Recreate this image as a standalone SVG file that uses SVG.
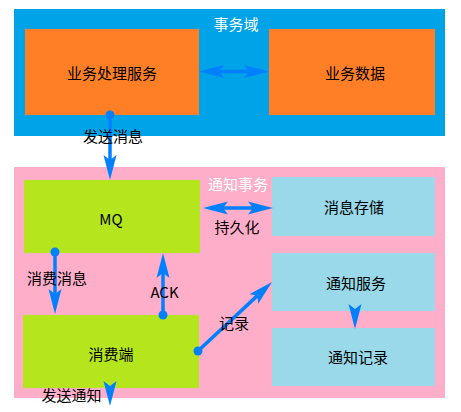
<svg xmlns="http://www.w3.org/2000/svg" width="461" height="412" viewBox="0 0 461 412">
<style>
text{font-family:"Noto Sans CJK SC","Noto Sans",sans-serif;font-size:15px;text-anchor:middle;fill:#000}
.w{fill:#fff}
.c{stroke:#0080ff;stroke-width:3.5;fill:none}
.d{fill:#0080ff}
.blue{fill:#00a2e8}.pink{fill:#ffaec9}.org{fill:#ff7f27}.lime{fill:#b5e61d}.lb{fill:#99d9ea}
</style>
<defs>
<marker id="ah" markerUnits="userSpaceOnUse" viewBox="-6 -8 30 16" markerWidth="30" markerHeight="16" refX="0" refY="0" orient="auto-start-reverse">
<path d="M20,0 L-5,-6.5 L0,0 L-5,6.5 Z" fill="#0080ff"/>
</marker>
</defs>
<g id="domain-tx">
<rect class="blue" x="14" y="9" width="431" height="127"/>
<text class="w" x="236" y="29.5">事务域</text>
</g>
<g id="domain-notify">
<rect class="pink" x="14" y="167" width="431" height="231"/>
<text class="w" x="238" y="189.5">通知事务</text>
</g>
<g id="biz-service">
<rect class="org" x="25" y="29" width="174" height="86"/>
<text x="112" y="78.5">业务处理服务</text>
</g>
<g id="biz-data">
<rect class="org" x="269" y="29" width="166" height="86"/>
<text x="355" y="78.5">业务数据</text>
</g>
<g id="mq">
<rect class="lime" x="24" y="180" width="176" height="73"/>
<text x="111" y="224.5">MQ</text>
</g>
<g id="msg-store">
<rect class="lb" x="272" y="177" width="163" height="59"/>
<text x="354" y="212.5">消息存储</text>
</g>
<g id="consumer">
<rect class="lime" x="23" y="315" width="176" height="73"/>
<text x="111" y="359.5">消费端</text>
</g>
<g id="notify-service">
<rect class="lb" x="272" y="253" width="163" height="58"/>
<text x="356" y="288.5">通知服务</text>
</g>
<g id="notify-record">
<rect class="lb" x="272" y="328" width="163" height="58"/>
<text x="358" y="362.5">通知记录</text>
</g>
<g id="connectors">
<path class="c" d="M110,115 L110,160" marker-end="url(#ah)"/>
<circle class="d" cx="110" cy="115" r="4.5"/>
<text x="113" y="141.5">发送消息</text>
<path class="c" d="M219,71.5 L249,71.5" marker-start="url(#ah)" marker-end="url(#ah)"/>
<path class="c" d="M223,208 L253,208" marker-start="url(#ah)" marker-end="url(#ah)"/>
<text x="237" y="232.5">持久化</text>
<path class="c" d="M55,252 L55,294" marker-end="url(#ah)"/>
<circle class="d" cx="55" cy="252" r="4.5"/>
<text x="57" y="283.5">消费消息</text>
<path class="c" d="M163,315 L163,273" marker-end="url(#ah)"/>
<circle class="d" cx="163" cy="315" r="4.5"/>
<text x="164.5" y="297.5">ACK</text>
<path class="c" d="M198,351 L257.4,295.6" marker-end="url(#ah)"/>
<circle class="d" cx="198" cy="351" r="4.5"/>
<text x="234" y="328.5">记录</text>
<path class="c" d="M355,308.99 L355,309" marker-end="url(#ah)"/>
<path class="c" d="M110,385.99 L110,386" marker-end="url(#ah)"/>
<text x="71.5" y="400.5">发送通知</text>
</g>
</svg>
